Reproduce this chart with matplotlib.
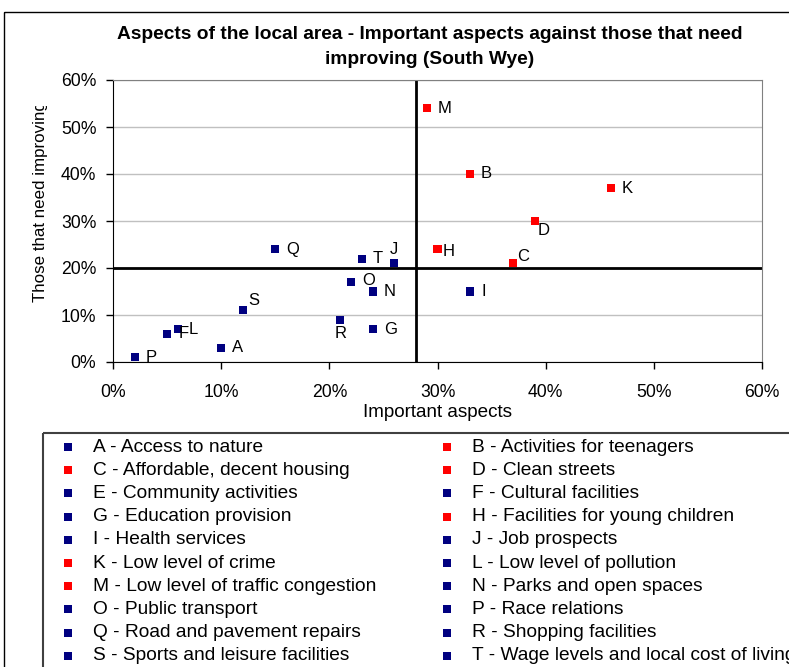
import matplotlib.pyplot as plt
from matplotlib.patches import Rectangle
from matplotlib.transforms import Bbox
from matplotlib.ticker import PercentFormatter

plt.rcParams['font.family'] = ['Liberation Sans', 'DejaVu Sans']

# data (percent)
letters = ['A', 'B', 'C', 'D', 'E', 'F', 'G', 'H', 'I', 'J',
           'K', 'L', 'M', 'N', 'O', 'P', 'Q', 'R', 'S', 'T']
names = ['Access to nature', 'Activities for teenagers', 'Affordable, decent housing',
         'Clean streets', 'Community activities', 'Cultural facilities',
         'Education provision', 'Facilities for young children', 'Health services',
         'Job prospects', 'Low level of crime', 'Low level of pollution',
         'Low level of traffic congestion', 'Parks and open spaces', 'Public transport',
         'Race relations', 'Road and pavement repairs', 'Shopping facilities',
         'Sports and leisure facilities', 'Wage levels and local cost of living']
important = [10, 33, 37, 39, 5, 5, 24, 30, 33, 26, 46, 6, 29, 24, 22, 2, 15, 21, 12, 23]
improving = [3, 40, 21, 30, 6, 6, 7, 24, 15, 21, 37, 7, 54, 15, 17, 1, 24, 9, 11, 22]
priority = [False, True, True, True, False, False, False, True, False, False,
            True, False, True, False, False, False, False, False, False, False]
important_avg = 28
improving_avg = 20

NAVY = '#000080'
RED = '#FF0000'
colors = [RED if p else NAVY for p in priority]

# label offsets in points (dx, dy, ha, va); default is to the right
offsets = {
    'S': (4, 7, 'left', 'center'),
    'R': (0, -10, 'center', 'center'),
    'J': (0, 10, 'center', 'center'),
    'D': (2, -7, 'left', 'center'),
    'C': (3, 5, 'left', 'center'),
    'H': (4, -2, 'left', 'center'),
    'O': (8, 1, 'left', 'center'),
}

fig = plt.figure(figsize=(7.89, 6.67), dpi=100)

# background layer for outer border and legend box
bg = fig.add_axes([0, 0, 1, 1], zorder=-1)
bg.set_xlim(0, 789)
bg.set_ylim(667, 0)
bg.axis('off')
bg.add_patch(Rectangle((4, 12), 900, 800, fill=False, ec='black', lw=1))
bg.add_patch(Rectangle((43, 433), 900, 400, fill=False, ec='#404040', lw=1.5))

ax = fig.add_axes([113 / 789, 1 - 362 / 667, 649 / 789, 282 / 667])
ax.set_xlim(0, 60)
ax.set_ylim(0, 60)
ax.set_xticks(range(0, 61, 10))
ax.set_yticks(range(0, 61, 10))
ax.xaxis.set_major_formatter(PercentFormatter(decimals=0))
ax.yaxis.set_major_formatter(PercentFormatter(decimals=0))
ax.tick_params(direction='out', length=5, width=1, labelsize=12.7)
ax.tick_params(axis='x', pad=11)
ax.tick_params(axis='y', pad=7)
ax.grid(axis='y', color='#C0C0C0', lw=1)
ax.set_axisbelow(True)
for side in ['top', 'right']:
    ax.spines[side].set_color('#808080')
for side in ['left', 'bottom']:
    ax.spines[side].set_color('black')

ax.axvline(important_avg, color='black', lw=2, zorder=2)
ax.axhline(improving_avg, color='black', lw=2, zorder=2)

ax.scatter(important, improving, c=colors, marker='s', s=34, lw=0, zorder=3)

for let, x, y in zip(letters, important, improving):
    if let == 'E':
        continue  # hidden behind F in the original
    dx, dy, ha, va = offsets.get(let, (8, 0, 'left', 'center'))
    ax.annotate(let, (x, y), xytext=(dx, dy), textcoords='offset points',
                ha=ha, va=va, fontsize=12, zorder=4)

ax.set_xlabel('Important aspects', fontsize=13.6, labelpad=2)
ylab = fig.text(41 / 789, 1 - 202 / 667, 'Those that need improving', rotation=90,
                ha='center', va='center', fontsize=12.2)
ylab.set_clip_box(Bbox([[0, 0], [789, 667 - 106]]))
ylab.set_clip_on(True)

fig.text(430 / 789, 1 - 47 / 667,
         'Aspects of the local area - Important aspects against those that need\nimproving (South Wye)',
         ha='center', va='center', fontsize=13.8, fontweight='bold', linespacing=1.6)

# legend laid out row by row in two columns
for i, (let, name, col) in enumerate(zip(letters, names, colors)):
    row, c = divmod(i, 2)
    y = 447 + row * 23.2
    mx = 68 if c == 0 else 447
    bg.scatter([mx], [y], marker='s', s=26, c=col, lw=0)
    bg.text(mx + 25, y, f'{let} - {name}', ha='left', va='center', fontsize=13.8)

fig.savefig('out.png', dpi=100)
